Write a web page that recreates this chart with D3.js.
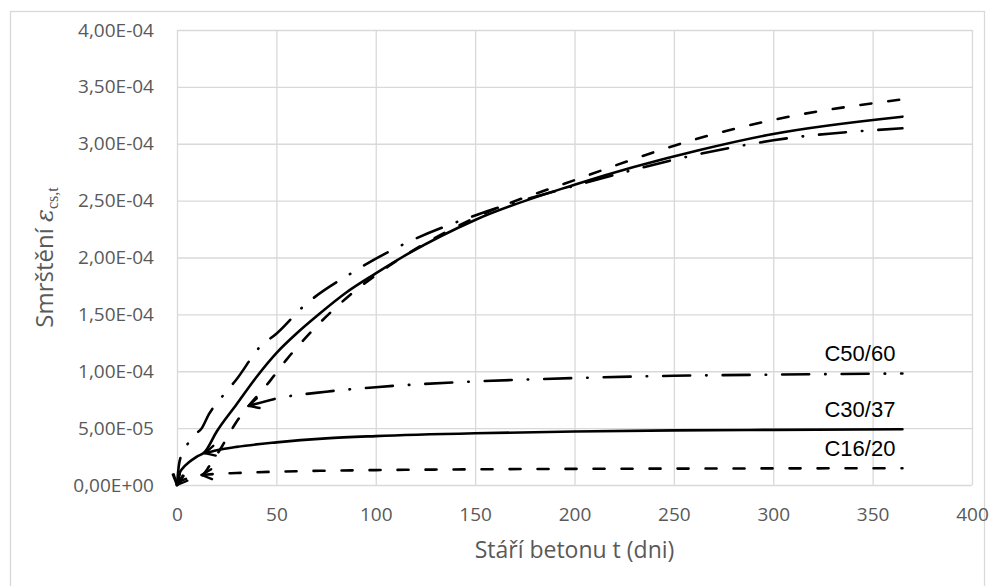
<!DOCTYPE html>
<html>
<head>
<meta charset="utf-8">
<script src="https://cdn.jsdelivr.net/npm/d3@7"></script>
<style>
  html, body { margin: 0; padding: 0; background: #fff; }
  svg { display: block; }
</style>
</head>
<body>
<svg id="chart" width="993" height="586"></svg>
<script>
// Axis ticks and labels
const xTicks = [0, 50, 100, 150, 200, 250, 300, 350, 400];
const yTicks = [0, 5e-5, 1e-4, 1.5e-4, 2e-4, 2.5e-4, 3e-4, 3.5e-4, 4e-4];
const yTickLabels = ["0,00E+00", "5,00E-05", "1,00E-04", "1,50E-04", "2,00E-04",
                     "2,50E-04", "3,00E-04", "3,50E-04", "4,00E-04"];

// Concrete classes
const classes = ["C16/20", "C30/37", "C50/60"];

// Autogenous shrinkage, [age in days, strain]
const autoC16 = [[12.4, 0.88e-5], [20, 0.98e-5], [30, 1.05e-5], [50, 1.17e-5], [75, 1.26e-5],
                 [100, 1.31e-5], [150, 1.38e-5], [200, 1.42e-5], [250, 1.44e-5], [300, 1.46e-5], [365, 1.47e-5]];
const autoC30 = [[14, 2.8e-5], [20, 3.05e-5], [30, 3.35e-5], [50, 3.75e-5], [75, 4.1e-5],
                 [100, 4.3e-5], [150, 4.55e-5], [200, 4.7e-5], [250, 4.8e-5], [300, 4.85e-5], [365, 4.9e-5]];
const autoC50 = [[36, 6.95e-5], [50, 7.6e-5], [75, 8.2e-5], [100, 8.6e-5], [150, 9.1e-5],
                 [200, 9.4e-5], [250, 9.6e-5], [300, 9.7e-5], [365, 9.8e-5]];

// Total shrinkage, [age in days, strain]
const totalC16 = [[0, 0], [2, 0.35e-5], [6, 0.6e-5], [12, 0.8e-5], [14, 1.1e-5], [16, 1.6e-5],
                  [21.6, 3.1e-5], [29, 5.3e-5], [47, 9.2e-5], [55, 1.1e-4], [65, 1.3e-4], [85, 1.64e-4],
                  [107, 1.93e-4], [150, 2.35e-4], [200, 2.68e-4], [263, 3.05e-4], [300, 3.21e-4], [365, 3.39e-4]];
const totalC30 = [[0, 0], [1, 0.9e-5], [3, 1.5e-5], [6, 2.0e-5], [10, 2.5e-5], [14, 2.9e-5],
                  [20, 4.7e-5], [30, 7.1e-5], [40, 9.5e-5], [50, 1.16e-4], [60, 1.33e-4], [72, 1.51e-4],
                  [85, 1.69e-4], [100, 1.86e-4], [117, 2.04e-4], [150, 2.33e-4], [200, 2.64e-4],
                  [263, 2.945e-4], [300, 3.086e-4], [365, 3.238e-4]];
const totalC50 = [[0, 0], [1, 1.8e-5], [3, 2.9e-5], [5.7, 3.7e-5], [8, 4.3e-5], [12.5, 5.0e-5],
                  [16, 6.2e-5], [23.3, 7.9e-5], [30, 9.3e-5], [41.8, 1.216e-4], [50, 1.33e-4], [63.6, 1.57e-4],
                  [88.4, 1.87e-4], [115, 2.125e-4], [150, 2.37e-4], [200, 2.63e-4], [263, 2.91e-4], [300, 3.03e-4], [365, 3.136e-4]];

const svg = d3.select("#chart");
const plot = { left: 177, right: 972, top: 30, bottom: 485 };

const x = d3.scaleLinear().domain([0, 400]).range([plot.left, plot.right]);
const y = d3.scaleLinear().domain([0, 4e-4]).range([plot.bottom, plot.top]);

// Chart frame
svg.append("rect")
  .attr("x", 10.5).attr("y", 11.5)
  .attr("width", 974).attr("height", 600)
  .attr("fill", "none").attr("stroke", "#d9d9d9").attr("stroke-width", 1.3);

// Horizontal gridlines and value labels
const yAxis = svg.append("g")
  .attr("transform", `translate(${plot.left},0)`)
  .call(d3.axisLeft(y).tickValues(yTicks)
    .tickSize(-(plot.right - plot.left))
    .tickPadding(23)
    .tickFormat((d, i) => yTickLabels[i]));
yAxis.select(".domain").remove();
yAxis.selectAll("line").attr("stroke", "#d9d9d9").attr("stroke-width", 1.3);
yAxis.selectAll("text")
  .attr("fill", "#595959")
  .style("font-family", "'Open Sans', sans-serif")
  .style("font-size", "19px");

// Vertical gridlines and age labels
const xAxis = svg.append("g")
  .attr("transform", `translate(0,${plot.bottom})`)
  .call(d3.axisBottom(x).tickValues(xTicks)
    .tickSize(-(plot.bottom - plot.top))
    .tickPadding(23)
    .tickFormat(d3.format("d")));
xAxis.select(".domain").remove();
xAxis.selectAll("line").attr("stroke", "#d9d9d9").attr("stroke-width", 1.3);
xAxis.selectAll("text")
  .attr("fill", "#595959")
  .style("font-family", "'Open Sans', sans-serif")
  .style("font-size", "19px");

// Open arrowhead used at the first point of each curve
svg.append("defs").append("marker")
  .attr("id", "arrow")
  .attr("markerUnits", "userSpaceOnUse")
  .attr("viewBox", "0 0 14 14")
  .attr("refX", 12).attr("refY", 7)
  .attr("markerWidth", 14).attr("markerHeight", 14)
  .attr("orient", "auto-start-reverse")
  .append("path")
  .attr("d", "M2,2 L12,7 L2,12")
  .attr("fill", "none")
  .attr("stroke", "#000")
  .attr("stroke-width", 2.4)
  .attr("stroke-linecap", "round")
  .attr("stroke-linejoin", "round")
  .attr("stroke-dasharray", "none");

const dashStyles = {
  "C16/20": "11 17",
  "C30/37": null,
  "C50/60": "27 16 0.5 16"
};

const line = d3.line()
  .x(d => x(d[0]))
  .y(d => y(d[1]))
  .curve(d3.curveMonotoneX);

const series = [
  { cls: "C16/20", data: totalC16 },
  { cls: "C30/37", data: totalC30 },
  { cls: "C50/60", data: totalC50 },
  { cls: "C16/20", data: autoC16 },
  { cls: "C30/37", data: autoC30 },
  { cls: "C50/60", data: autoC50 }
];

svg.append("g").selectAll("path")
  .data(series)
  .join("path")
  .attr("d", d => line(d.data))
  .attr("fill", "none")
  .attr("stroke", "#000")
  .attr("stroke-width", 2.6)
  .attr("stroke-linecap", "round")
  .attr("stroke-dasharray", d => dashStyles[d.cls])
  .attr("marker-start", "url(#arrow)");

// Class labels above the autogenous curves
const autoByClass = { "C16/20": autoC16, "C30/37": autoC30, "C50/60": autoC50 };
svg.append("g").selectAll("text")
  .data(classes)
  .join("text")
  .attr("x", d => x(autoByClass[d][autoByClass[d].length - 1][0]) - 7)
  .attr("y", d => y(autoByClass[d][autoByClass[d].length - 1][1]) - 12.5)
  .attr("text-anchor", "end")
  .style("font-family", "'Liberation Sans', Arial, sans-serif")
  .style("font-size", "22px")
  .attr("fill", "#000")
  .text(d => d);

// Axis titles
svg.append("text")
  .attr("x", (plot.left + plot.right) / 2)
  .attr("y", 558)
  .attr("text-anchor", "middle")
  .attr("fill", "#595959")
  .style("font-family", "'Open Sans', sans-serif")
  .style("font-size", "23px")
  .text("Stáří betonu t (dni)");

const yTitle = svg.append("text")
  .attr("transform", `translate(53,${(plot.top + plot.bottom) / 2}) rotate(-90)`)
  .attr("text-anchor", "middle")
  .attr("fill", "#595959")
  .style("font-family", "'Open Sans', sans-serif")
  .style("font-size", "24px");
yTitle.append("tspan").text("Smrštění ");
yTitle.append("tspan")
  .style("font-family", "'DejaVu Serif', serif")
  .style("font-style", "italic")
  .text("ε");
yTitle.append("tspan")
  .attr("dy", 5)
  .style("font-family", "'Liberation Serif', serif")
  .style("font-size", "16px")
  .text("cs,t");
</script>
</body>
</html>
